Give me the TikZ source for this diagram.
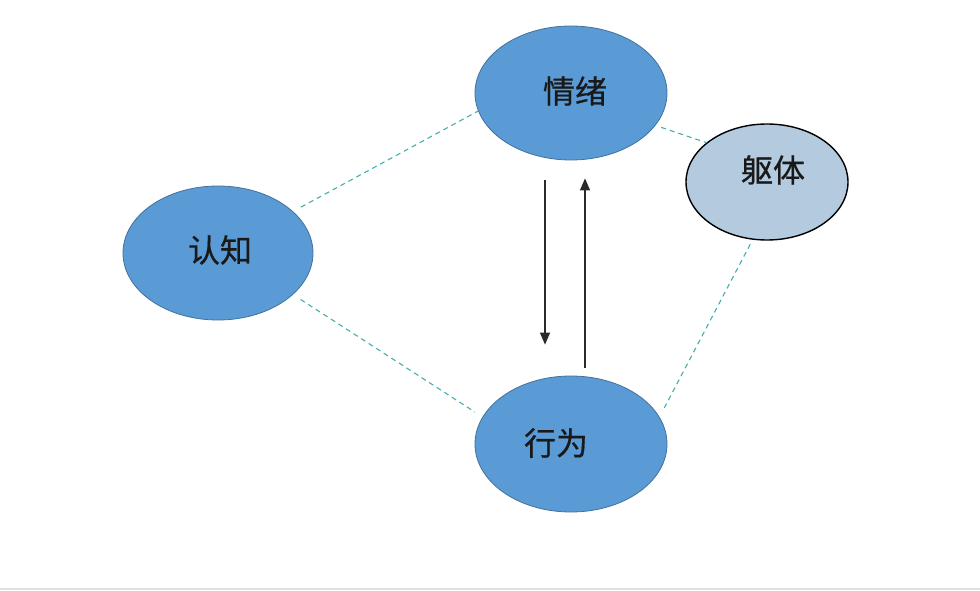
\documentclass[tikz,border=0pt]{standalone}
\usepackage{fontspec}
\newfontfamily\cjk[FakeBold=0.6]{Noto Sans CJK SC}
\usetikzlibrary{shapes.geometric,arrows.meta,calc}
\definecolor{blueFill}{HTML}{5B9BD5}
\definecolor{blueLine}{HTML}{41719C}
\definecolor{paleFill}{HTML}{B3CADF}
\definecolor{dashCol}{RGB}{70,175,170}
\definecolor{arrCol}{HTML}{2A2A2A}
\tikzset{
  blob/.style={ellipse, draw=blueLine, line width=0.8pt, fill=blueFill, inner sep=0pt},
  paleblob/.style={ellipse, draw=black, line width=1.4pt, fill=paleFill, inner sep=0pt},
  lbl/.style={font=\cjk\fontsize{32}{36}\selectfont, text=black!90, inner sep=0pt},
  link/.style={draw=dashCol, line width=1.1pt, dash pattern=on 5pt off 4pt},
  arr/.style={draw=arrCol, line width=1.3pt, -{Triangle[length=12pt,width=10pt]}}
}
\begin{document}
\begin{tikzpicture}[x=1pt,y=-1pt]
\useasboundingbox (0,0) rectangle (980,591);
\fill[white] (0,0) rectangle (980,591);
\draw[black!12, line width=2pt] (0,589) -- (980,589);
% ellipses
\node[blob, minimum width=192pt, minimum height=134pt] (qx) at (571,93) {};
\node[paleblob, minimum width=162pt, minimum height=116pt] (qt) at (767,182) {};
\node[blob, minimum width=190pt, minimum height=134pt] (rz) at (218,253) {};
\node[blob, minimum width=192pt, minimum height=136pt] (xw) at (571,444) {};
% labels
\node[lbl] (qxt) at ($(qx)+(4,-2)$) {情绪};
\node[lbl] (qtt) at ($(qt)+(6,-12)$) {躯体};
\node[lbl] (rzt) at ($(rz)+(2,-3)$) {认知};
\node[lbl] (xwt) at ($(xw)+(-15,-1)$) {行为};
% dashed links
\draw[link, shorten <=9pt] (rz.29) -- (qx.191);
\draw[link, shorten <=9pt, shorten >=9pt] (rz.-29) -- (xw.163);
\draw[link, shorten <=6pt] (qx.-21) -- (qt.147);
\draw[link, shorten <=5pt, shorten >=10pt] (qt.-104) -- (xw.17);
% arrows
\draw[arr] ($(qx.south)+(-26,20)$) -- ($(xw.north)+(-26,-31)$);
\draw[arr] ($(xw.north)+(14,-8)$) -- ($(qx.south)+(14,18)$);
\end{tikzpicture}
\end{document}
